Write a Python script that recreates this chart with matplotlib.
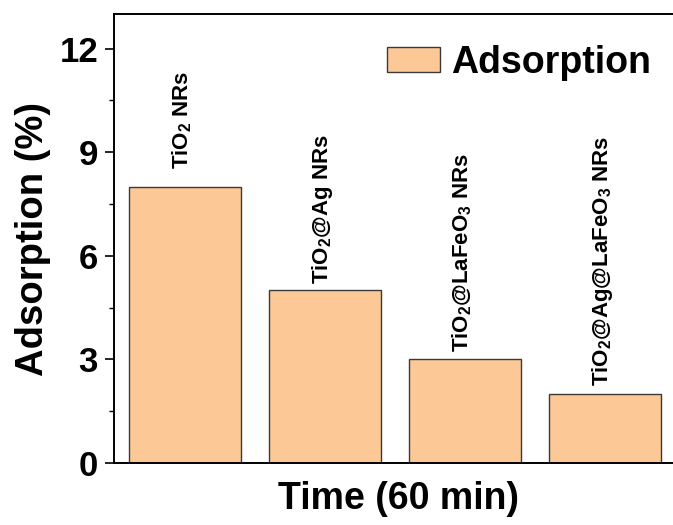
import matplotlib
matplotlib.use("Agg")
import matplotlib.pyplot as plt
from matplotlib.ticker import MultipleLocator

plt.rcParams['font.family'] = ['Liberation Sans', 'DejaVu Sans']
plt.rcParams['font.weight'] = 'bold'
plt.rcParams['mathtext.fontset'] = 'custom'
plt.rcParams['mathtext.rm'] = 'Liberation Sans:bold'
plt.rcParams['mathtext.bf'] = 'Liberation Sans:bold'
plt.rcParams['mathtext.it'] = 'Liberation Sans:bold'
plt.rcParams['mathtext.default'] = 'rm'

# Data
categories = [r"TiO$_2$ NRs", r"TiO$_2$@Ag NRs", r"TiO$_2$@LaFeO$_3$ NRs", r"TiO$_2$@Ag@LaFeO$_3$ NRs"]
values = [8, 5, 3, 2]
yticks = [0, 3, 6, 9, 12]
label_offsets = [18, 6, 7, 8]  # pixels above bar top

fig = plt.figure(figsize=(6.73, 5.25), dpi=100)
ax = fig.add_axes([114/673, 62/525, (682-114)/673, (463-14)/525])

x = list(range(len(values)))
bars = ax.bar(x, values, width=0.8, color='#FCC996', edgecolor='#3a3a3a', linewidth=1.0,
              label='Adsorption')

for xi, v, lab, off in zip(x, values, categories, label_offsets):
    ax.annotate(lab, xy=(xi, v), xytext=(-2, off * 0.72), textcoords='offset points',
                rotation=90, ha='center', va='bottom', fontsize=16, fontweight='bold')

ax.set_xlim(-0.507, 3.55)
ax.set_ylim(0, 13)
ax.set_yticks(yticks)
ax.yaxis.set_minor_locator(MultipleLocator(1.5))
ax.set_xticks([])
ax.tick_params(axis='y', which='major', direction='out', length=6.5, width=1.2,
               labelsize=25, pad=5)
ax.tick_params(axis='y', which='minor', direction='out', length=3.5, width=1.0)
for lab in ax.get_yticklabels():
    lab.set_fontweight('bold')
for s in ax.spines.values():
    s.set_linewidth(1.4)

ax.set_xlabel('Time (60 min)', fontsize=27, fontweight='bold', labelpad=13)
ax.set_ylabel('Adsorption (%)', fontsize=27.5, fontweight='bold', labelpad=6)

leg = ax.legend(loc='upper left', bbox_to_anchor=(0.455, 0.965), frameon=False,
                prop={'size': 27, 'weight': 'bold'}, handlelength=1.4, handleheight=0.65,
                handletextpad=0.3, borderaxespad=0)

fig.savefig('out.png', dpi=100)
